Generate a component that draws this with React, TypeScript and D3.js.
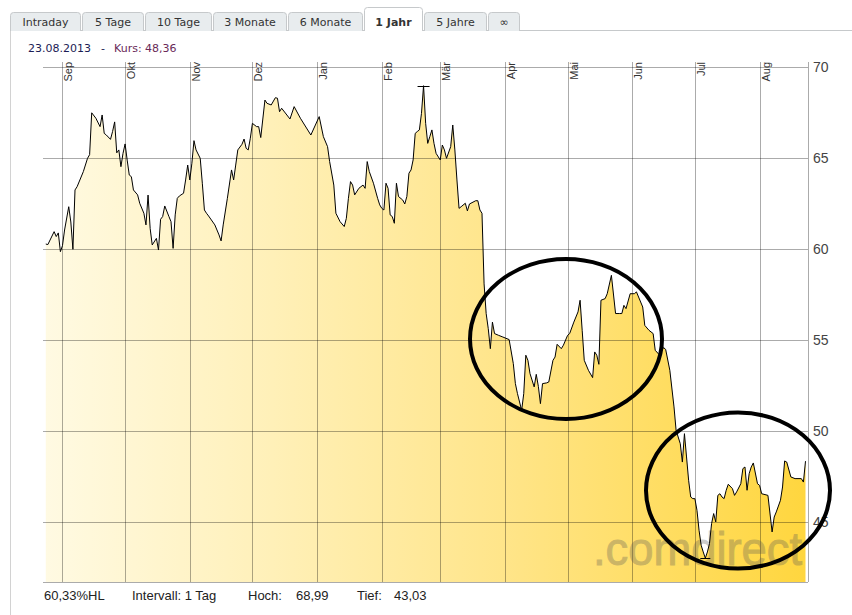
import React from "react";
import * as d3 from "d3";

const tabLabels = ["Intraday", "5 Tage", "10 Tage", "3 Monate", "6 Monate", "1 Jahr", "5 Jahre", "∞"];
const activeTab = "1 Jahr";
const tabWidths = [71, 62, 67, 74, 75, 59, 63, 32];

const monthNames = ["Jan", "Feb", "Mär", "Apr", "Mai", "Jun", "Jul", "Aug", "Sep", "Okt", "Nov", "Dez"];
const yTicks = [70, 65, 60, 55, 50, 45];
const intervalLabel = "Intervall: 1 Tag";
const watermark = ".comdirect";

// Tagesschlusskurse
const closes: [string, number][] = [
  ["2012-08-24", 60.29], ["2012-08-25", 60.26], ["2012-08-28", 60.97], ["2012-08-29", 60.7],
  ["2012-08-30", 60.9], ["2012-08-31", 59.87], ["2012-09-01", 60.2], ["2012-09-02", 61.06],
  ["2012-09-04", 62.34], ["2012-09-05", 61.5], ["2012-09-06", 60.0], ["2012-09-07", 63.26],
  ["2012-09-08", 63.44], ["2012-09-11", 64.27], ["2012-09-13", 65.0], ["2012-09-14", 65.2],
  ["2012-09-15", 67.5], ["2012-09-17", 67.2], ["2012-09-19", 66.74], ["2012-09-20", 67.38],
  ["2012-09-21", 66.37], ["2012-09-22", 66.28], ["2012-09-24", 66.04], ["2012-09-25", 66.47],
  ["2012-09-26", 67.0], ["2012-09-27", 65.3], ["2012-09-28", 65.46], ["2012-09-29", 64.54],
  ["2012-09-30", 65.27], ["2012-10-01", 65.79], ["2012-10-02", 64.9], ["2012-10-03", 64.08],
  ["2012-10-04", 63.99], ["2012-10-05", 63.26], ["2012-10-07", 62.99], ["2012-10-08", 62.53],
  ["2012-10-10", 61.98], ["2012-10-11", 61.34], ["2012-10-12", 62.98], ["2012-10-13", 61.15],
  ["2012-10-14", 60.24], ["2012-10-16", 60.6], ["2012-10-17", 59.96], ["2012-10-18", 61.65],
  ["2012-10-19", 61.8], ["2012-10-20", 62.38], ["2012-10-22", 61.8], ["2012-10-23", 61.52],
  ["2012-10-24", 60.05], ["2012-10-25", 61.89], ["2012-10-26", 62.8], ["2012-10-27", 62.93],
  ["2012-10-29", 63.08], ["2012-10-30", 63.81], ["2012-10-31", 64.63], ["2012-11-01", 63.81],
  ["2012-11-02", 64.73], ["2012-11-03", 65.97], ["2012-11-04", 65.46], ["2012-11-06", 65.0],
  ["2012-11-07", 63.63], ["2012-11-08", 62.16], ["2012-11-09", 61.98], ["2012-11-10", 61.83],
  ["2012-11-13", 61.34], ["2012-11-15", 60.79], ["2012-11-16", 60.46], ["2012-11-17", 61.34],
  ["2012-11-19", 62.8], ["2012-11-21", 64.36], ["2012-11-22", 63.81], ["2012-11-23", 64.63],
  ["2012-11-24", 65.46], ["2012-11-26", 65.77], ["2012-11-27", 66.06], ["2012-11-28", 65.55],
  ["2012-11-29", 65.46], ["2012-11-30", 66.1], ["2012-12-01", 66.92], ["2012-12-03", 66.74],
  ["2012-12-04", 66.74], ["2012-12-05", 66.14], ["2012-12-07", 68.2], ["2012-12-08", 68.02],
  ["2012-12-10", 67.93], ["2012-12-12", 68.33], ["2012-12-13", 68.3], ["2012-12-14", 67.56],
  ["2012-12-15", 67.75], ["2012-12-19", 67.16], ["2012-12-21", 67.84], ["2012-12-24", 67.2],
  ["2012-12-29", 66.28], ["2013-01-02", 67.29], ["2013-01-04", 66.19], ["2013-01-06", 65.64],
  ["2013-01-07", 64.82], ["2013-01-09", 63.53], ["2013-01-10", 61.98], ["2013-01-12", 61.52],
  ["2013-01-14", 61.25], ["2013-01-15", 61.7], ["2013-01-16", 62.8], ["2013-01-17", 63.72],
  ["2013-01-18", 63.53], ["2013-01-19", 62.99], ["2013-01-21", 63.35], ["2013-01-23", 63.53],
  ["2013-01-24", 63.35], ["2013-01-25", 64.82], ["2013-01-26", 64.27], ["2013-01-28", 63.63],
  ["2013-01-30", 62.8], ["2013-01-31", 62.44], ["2013-02-01", 62.25], ["2013-02-02", 62.16],
  ["2013-02-03", 63.63], ["2013-02-04", 63.35], ["2013-02-05", 61.89], ["2013-02-06", 61.8],
  ["2013-02-07", 61.43], ["2013-02-08", 63.63], ["2013-02-09", 62.9], ["2013-02-11", 62.71],
  ["2013-02-12", 62.49], ["2013-02-13", 62.9], ["2013-02-14", 64.18], ["2013-02-15", 64.36],
  ["2013-02-16", 64.91], ["2013-02-17", 66.37], ["2013-02-18", 66.47], ["2013-02-19", 66.56],
  ["2013-02-20", 67.47], ["2013-02-21", 68.99], ["2013-02-22", 66.92], ["2013-02-23", 65.82],
  ["2013-02-24", 66.19], ["2013-02-25", 66.56], ["2013-02-26", 65.82], ["2013-02-27", 65.27],
  ["2013-03-01", 64.91], ["2013-03-02", 65.73], ["2013-03-03", 65.46], ["2013-03-04", 65.0],
  ["2013-03-06", 65.64], ["2013-03-07", 66.83], ["2013-03-08", 65.46], ["2013-03-09", 63.81],
  ["2013-03-10", 62.25], ["2013-03-11", 62.34], ["2013-03-13", 62.53], ["2013-03-14", 62.11],
  ["2013-03-15", 62.49], ["2013-03-18", 62.67], ["2013-03-19", 62.67], ["2013-03-20", 62.16],
  ["2013-03-21", 61.98], ["2013-03-22", 58.1], ["2013-03-23", 56.47], ["2013-03-24", 55.64],
  ["2013-03-25", 54.54], ["2013-03-26", 56.0], ["2013-03-27", 55.37], ["2013-03-29", 55.27],
  ["2013-03-31", 55.18], ["2013-04-03", 55.04], ["2013-04-05", 53.72], ["2013-04-06", 52.62],
  ["2013-04-07", 52.07], ["2013-04-09", 51.15], ["2013-04-10", 52.07], ["2013-04-11", 54.18],
  ["2013-04-12", 53.9], ["2013-04-13", 53.17], ["2013-04-15", 52.44], ["2013-04-16", 53.13],
  ["2013-04-17", 52.47], ["2013-04-18", 51.52], ["2013-04-19", 52.62], ["2013-04-21", 52.66],
  ["2013-04-22", 52.71], ["2013-04-24", 53.9], ["2013-04-25", 54.08], ["2013-04-26", 54.78],
  ["2013-04-28", 54.54], ["2013-04-29", 54.73], ["2013-05-01", 55.27], ["2013-05-02", 55.37],
  ["2013-05-04", 56.0], ["2013-05-06", 56.56], ["2013-05-07", 57.2], ["2013-05-08", 55.55],
  ["2013-05-09", 53.9], ["2013-05-11", 53.35], ["2013-05-13", 52.95], ["2013-05-14", 54.36],
  ["2013-05-15", 54.18], ["2013-05-16", 53.68], ["2013-05-17", 57.2], ["2013-05-19", 57.29],
  ["2013-05-20", 57.56], ["2013-05-22", 58.57], ["2013-05-24", 56.47], ["2013-05-26", 56.47],
  ["2013-05-27", 56.47], ["2013-05-28", 56.92], ["2013-05-29", 56.74], ["2013-05-31", 57.56],
  ["2013-06-02", 57.56], ["2013-06-03", 57.66], ["2013-06-06", 56.83], ["2013-06-07", 55.82],
  ["2013-06-09", 55.55], ["2013-06-11", 55.37], ["2013-06-12", 54.45], ["2013-06-14", 54.2],
  ["2013-06-16", 54.6], ["2013-06-17", 54.5], ["2013-06-19", 53.35], ["2013-06-21", 51.34],
  ["2013-06-22", 50.05], ["2013-06-24", 49.32], ["2013-06-25", 48.31], ["2013-06-26", 49.87],
  ["2013-06-27", 48.59], ["2013-06-28", 47.31], ["2013-06-29", 46.39], ["2013-06-30", 46.3],
  ["2013-07-01", 46.3], ["2013-07-02", 45.66], ["2013-07-03", 44.56], ["2013-07-04", 43.74],
  ["2013-07-05", 43.37], ["2013-07-06", 43.03], ["2013-07-07", 43.37], ["2013-07-08", 43.83],
  ["2013-07-09", 44.93], ["2013-07-10", 45.48], ["2013-07-11", 45.02], ["2013-07-12", 46.48],
  ["2013-07-13", 46.57], ["2013-07-14", 46.39], ["2013-07-15", 46.3], ["2013-07-16", 46.76],
  ["2013-07-17", 47.09], ["2013-07-19", 46.85], ["2013-07-20", 46.48], ["2013-07-21", 46.67],
  ["2013-07-23", 47.12], ["2013-07-24", 47.95], ["2013-07-25", 48.04], ["2013-07-26", 46.76],
  ["2013-07-27", 47.67], ["2013-07-28", 48.04], ["2013-07-29", 48.26], ["2013-07-31", 47.12],
  ["2013-08-01", 47.03], ["2013-08-02", 46.57], ["2013-08-05", 46.48], ["2013-08-07", 44.47],
  ["2013-08-08", 45.29], ["2013-08-09", 45.57], ["2013-08-11", 46.21], ["2013-08-12", 46.94],
  ["2013-08-13", 48.37], ["2013-08-14", 48.31], ["2013-08-16", 47.49], ["2013-08-18", 47.4],
  ["2013-08-21", 47.4], ["2013-08-22", 47.21], ["2013-08-23", 48.36],
];

const W = 852;
const H = 615;
const left = 43;
const right = 808;
const bottom = 582;

const parse = d3.timeParse("%Y-%m-%d");
const fmtDe = (v: number) => d3.format(".2f")(v).replace(".", ",");

export default function App() {
  const data = closes.map(([d, v]) => ({ date: parse(d) as Date, v }));

  const x = d3
    .scaleTime()
    .domain([new Date(2012, 7, 23), new Date(2013, 7, 23)])
    .range([43.7, 805.5]);
  const y = d3.scaleLinear().domain([45, 70]).range([522.3, 67.3]);

  const area = d3
    .area<any>()
    .x((d) => x(d.date))
    .y0(bottom)
    .y1((d) => y(d.v));
  const line = d3
    .line<any>()
    .x((d) => x(d.date))
    .y((d) => y(d.v));

  const hi = d3.greatest(data, (d) => d.v)!;
  const lo = d3.least(data, (d) => d.v)!;
  const last = data[data.length - 1];
  const hlPct = ((hi.v - lo.v) / lo.v) * 100;

  const months = x.ticks(d3.timeMonth.every(1)).filter((d) => x(d) > left && x(d) < right);

  let tx = 10;
  const tabs = tabLabels.map((label, i) => {
    const t = { label, x: tx, w: tabWidths[i], active: label === activeTab };
    tx += tabWidths[i] + 1;
    return t;
  });

  const grid = "rgba(0,0,0,0.33)";
  const axisFont = "'Liberation Sans', Arial, sans-serif";
  const uiFont = "'DejaVu Sans', Verdana, sans-serif";

  return (
    <>
      <style>{`body{margin:0}`}</style>
      <svg width={W} height={H} style={{ display: "block", background: "#fff" }}>
        <defs>
          <linearGradient id="fillGrad" gradientUnits="userSpaceOnUse" x1={left} x2={right} y1={0} y2={0}>
            <stop offset="0" stopColor="#fffae3" />
            <stop offset="0.3" stopColor="#fff0b8" />
            <stop offset="0.6" stopColor="#ffe58a" />
            <stop offset="1" stopColor="#ffd63e" />
          </linearGradient>
        </defs>

        {/* Reiter */}
        <line x1={10} x2={W} y1={30.5} y2={30.5} stroke="#c6c9cb" />
        <line x1={10.5} x2={10.5} y1={30} y2={H} stroke="#d2d2d2" />
        {tabs.map((t) => {
          const ty = t.active ? 7.5 : 12.5;
          const x0 = t.x + 0.5;
          const x1 = t.x + t.w - 0.5;
          const d = `M${x0},31 V${ty + 3} Q${x0},${ty} ${x0 + 3},${ty} H${x1 - 3} Q${x1},${ty} ${x1},${ty + 3} V31`;
          return (
            <g key={t.label}>
              <path d={d} fill={t.active ? "#fff" : "#e8ecee"} stroke="#c6c9cb" />
              {t.active && <rect x={x0 + 0.5} y={29} width={t.w - 2} height={3} fill="#fff" />}
              <text
                x={t.x + t.w / 2}
                y={26}
                textAnchor="middle"
                fontFamily={uiFont}
                fontSize={11}
                fontWeight={t.active ? "bold" : "normal"}
                fill="#333"
              >
                {t.label}
              </text>
            </g>
          );
        })}

        {/* Kopfzeile */}
        <text y={52} fontFamily={uiFont} fontSize={11}>
          <tspan x={28} fill="#1c1c55">{d3.timeFormat("%d.%m.%Y")(last.date)}</tspan>
          <tspan x={101} fill="#1c1c55">-</tspan>
          <tspan x={114} fill="#6a2a58">Kurs: {fmtDe(last.v)}</tspan>
        </text>

        {/* Fläche */}
        <path d={area(data) ?? ""} fill="url(#fillGrad)" />

        {/* Gitter */}
        {yTicks.map((t) => (
          <line key={t} x1={left} x2={right} y1={Math.round(y(t)) + 0.5} y2={Math.round(y(t)) + 0.5} stroke={grid} />
        ))}
        {months.map((m) => (
          <line key={+m} x1={Math.round(x(m)) + 0.5} x2={Math.round(x(m)) + 0.5} y1={62} y2={bottom} stroke={grid} />
        ))}
        <line x1={right + 0.5} x2={right + 0.5} y1={62} y2={bottom} stroke={grid} />
        <line x1={left} x2={right} y1={bottom + 0.5} y2={bottom + 0.5} stroke={grid} />

        {/* Achsenbeschriftung */}
        {months.map((m) => (
          <text
            key={"l" + +m}
            transform={`translate(${Math.round(x(m)) + 10},62) rotate(-90)`}
            textAnchor="end"
            fontFamily={axisFont}
            fontSize={11}
            fill="#333"
          >
            {monthNames[m.getMonth()]}
          </text>
        ))}
        {yTicks.map((t) => (
          <text key={"y" + t} x={813} y={y(t)} dy="0.36em" fontFamily={axisFont} fontSize={14} fill="#444">
            {t}
          </text>
        ))}

        {/* Wasserzeichen */}
        <g opacity={0.3}>
          <text
            x={593}
            y={565}
            fontFamily={axisFont}
            fontSize={46}
            textLength={209}
            lengthAdjust="spacingAndGlyphs"
            fill="#555"
            stroke="#555"
            strokeWidth={1}
          >
            {watermark}
          </text>
        </g>

        {/* Kurslinie */}
        <path d={line(data) ?? ""} fill="none" stroke="#000" strokeWidth={1} strokeLinejoin="miter" />
        <line x1={x(hi.date) - 6} x2={x(hi.date) + 6} y1={Math.round(y(hi.v)) + 0.5} y2={Math.round(y(hi.v)) + 0.5} stroke="#000" />
        <line x1={x(lo.date) - 5} x2={x(lo.date) + 5} y1={Math.round(y(lo.v)) + 0.5} y2={Math.round(y(lo.v)) + 0.5} stroke="#000" />

        {/* Fußzeile */}
        <g fontFamily={axisFont} fontSize={13} fill="#222">
          <text x={44} y={600}>{fmtDe(hlPct)}%HL</text>
          <text x={132} y={600}>{intervalLabel}</text>
          <text x={248} y={600}>Hoch:</text>
          <text x={296} y={600}>{fmtDe(hi.v)}</text>
          <text x={357} y={600}>Tief:</text>
          <text x={394} y={600}>{fmtDe(lo.v)}</text>
        </g>

        {/* Markierungen */}
        <ellipse cx={566} cy={339} rx={96} ry={80} fill="none" stroke="#000" strokeWidth={4} />
        <ellipse cx={738} cy={490.5} rx={92} ry={78} fill="none" stroke="#000" strokeWidth={4} />
      </svg>
    </>
  );
}
